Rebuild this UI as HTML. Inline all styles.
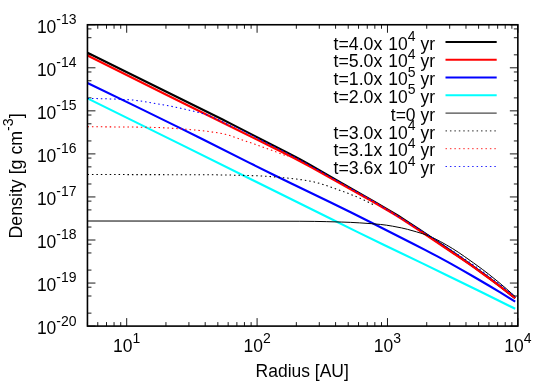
<!DOCTYPE html>
<html><head><meta charset="utf-8"><title>plot</title>
<style>
html,body{margin:0;padding:0;background:#fff;}
svg{display:block;}
text{font-family:"Liberation Sans",sans-serif;fill:#000;}
.tx{opacity:0.999;}
</style></head><body>
<svg width="550" height="386" viewBox="0 0 550 386">
<rect x="0" y="0" width="550" height="386" fill="#ffffff"/>
<path d="M87.45 326.10h8 M517.85 326.10h-8 M87.45 313.14h4 M517.85 313.14h-4 M87.45 296.01h4 M517.85 296.01h-4 M87.45 287.22h4 M517.85 287.22h-4 M87.45 283.05h8 M517.85 283.05h-8 M87.45 270.09h4 M517.85 270.09h-4 M87.45 252.96h4 M517.85 252.96h-4 M87.45 244.17h4 M517.85 244.17h-4 M87.45 240.00h8 M517.85 240.00h-8 M87.45 227.04h4 M517.85 227.04h-4 M87.45 209.91h4 M517.85 209.91h-4 M87.45 201.12h4 M517.85 201.12h-4 M87.45 196.95h8 M517.85 196.95h-8 M87.45 183.99h4 M517.85 183.99h-4 M87.45 166.86h4 M517.85 166.86h-4 M87.45 158.07h4 M517.85 158.07h-4 M87.45 153.90h8 M517.85 153.90h-8 M87.45 140.94h4 M517.85 140.94h-4 M87.45 123.81h4 M517.85 123.81h-4 M87.45 115.02h4 M517.85 115.02h-4 M87.45 110.85h8 M517.85 110.85h-8 M87.45 97.89h4 M517.85 97.89h-4 M87.45 80.76h4 M517.85 80.76h-4 M87.45 71.97h4 M517.85 71.97h-4 M87.45 67.80h8 M517.85 67.80h-8 M87.45 54.84h4 M517.85 54.84h-4 M87.45 37.71h4 M517.85 37.71h-4 M87.45 28.92h4 M517.85 28.92h-4 M87.45 24.75h8 M517.85 24.75h-8 M87.45 326.1v-4 M87.45 24.75v4 M97.77 326.1v-4 M97.77 24.75v4 M106.50 326.1v-4 M106.50 24.75v4 M114.06 326.1v-4 M114.06 24.75v4 M120.73 326.1v-4 M120.73 24.75v4 M126.70 326.1v-8 M126.70 24.75v8 M165.95 326.1v-4 M165.95 24.75v4 M188.91 326.1v-4 M188.91 24.75v4 M205.20 326.1v-4 M205.20 24.75v4 M217.83 326.1v-4 M217.83 24.75v4 M228.16 326.1v-4 M228.16 24.75v4 M236.89 326.1v-4 M236.89 24.75v4 M244.45 326.1v-4 M244.45 24.75v4 M251.12 326.1v-4 M251.12 24.75v4 M257.08 326.1v-8 M257.08 24.75v8 M296.33 326.1v-4 M296.33 24.75v4 M319.29 326.1v-4 M319.29 24.75v4 M335.58 326.1v-4 M335.58 24.75v4 M348.22 326.1v-4 M348.22 24.75v4 M358.54 326.1v-4 M358.54 24.75v4 M367.27 326.1v-4 M367.27 24.75v4 M374.83 326.1v-4 M374.83 24.75v4 M381.50 326.1v-4 M381.50 24.75v4 M387.47 326.1v-8 M387.47 24.75v8 M426.72 326.1v-4 M426.72 24.75v4 M449.68 326.1v-4 M449.68 24.75v4 M465.97 326.1v-4 M465.97 24.75v4 M478.60 326.1v-4 M478.60 24.75v4 M488.92 326.1v-4 M488.92 24.75v4 M497.65 326.1v-4 M497.65 24.75v4 M505.21 326.1v-4 M505.21 24.75v4 M511.88 326.1v-4 M511.88 24.75v4 M517.85 326.1v-8 M517.85 24.75v8" stroke="#000" stroke-width="0.9" fill="none"/>
<g fill="none" stroke-linejoin="round" stroke-linecap="butt">
<polyline points="87.50,52.80 123.39,70.43 222.09,119.29 234.05,125.35 260.97,139.20 287.89,152.90 299.85,159.22 308.83,164.20 338.74,181.48 374.63,201.85 392.57,212.31 398.55,216.03 404.54,219.86 419.49,229.75 455.38,253.99 470.34,264.38 479.31,270.80 485.29,275.18 491.27,279.64 500.25,286.48 515.20,298.20" stroke="#000000" stroke-width="2.15"/>
<polyline points="87.50,55.50 165.26,94.30 234.05,128.20 281.91,151.96 293.87,158.01 302.85,162.71 311.82,167.59 371.64,201.06 380.61,206.21 389.58,211.49 395.56,215.15 401.55,218.93 416.50,228.72 458.37,256.72 473.33,266.98 485.29,275.52 491.27,279.92 500.25,286.65 515.20,298.20" stroke="#ff0000" stroke-width="2.15"/>
<polyline points="87.50,83.00 135.35,106.13 180.22,128.11 201.15,138.52 249.01,162.59 272.94,174.52 290.88,183.30 329.76,202.00 350.70,212.29 371.64,222.78 413.51,243.94 425.47,250.11 437.44,256.42 449.40,262.93 461.36,269.62 473.33,276.46 488.28,285.20 500.25,292.39 515.20,301.60" stroke="#0000ff" stroke-width="2.15"/>
<polyline points="87.50,98.40 183.21,145.59 329.76,218.29 356.68,231.59 383.60,244.75 422.48,263.37 449.40,276.43 482.30,292.53 515.20,308.80" stroke="#00ffff" stroke-width="2.15"/>
<polyline points="87.50,221.00 243.03,221.12 299.85,221.25 314.81,221.40 326.77,221.65 341.73,222.05 350.70,222.39 359.67,222.86 371.64,223.69 380.61,224.46 386.59,225.20 392.57,226.18 401.55,227.92 407.53,229.34 416.50,231.85 422.48,233.66 425.47,234.66 428.46,235.79 431.45,237.06 434.45,238.46 440.43,241.55 446.41,244.91 452.39,248.44 458.37,252.30 464.35,256.42 473.33,262.75 482.30,269.29 488.28,273.85 497.25,281.05 506.23,288.63 515.20,296.60" stroke="#000000" stroke-width="1.0"/>
<polyline points="87.50,174.55 200.91,174.70 212.84,174.79 227.77,175.01 248.66,175.51 260.59,175.94 266.56,176.31 272.53,176.76 281.48,177.53 290.44,178.40 296.41,179.08 302.38,179.88 308.34,180.81 311.33,181.35 314.31,181.99 317.30,182.75 323.27,184.54 329.23,186.56 344.16,191.88 353.11,195.31 359.08,197.80 362.06,199.12 368.03,201.95 374.00,205.00" stroke="#000000" stroke-width="1.05" stroke-dasharray="1.5 2.94"/>
<polyline points="87.50,126.80 108.45,126.86 129.40,127.03 150.34,127.31 159.32,127.58 171.29,128.22 183.26,129.03 189.25,129.49 201.22,130.64 207.20,131.34 213.19,132.14 219.17,133.06 222.16,133.60 225.16,134.28 228.15,135.08 231.14,135.98 237.13,138.01 246.10,141.25 255.08,144.36 288.00,156.30" stroke="#ff0000" stroke-width="1.05" stroke-dasharray="1.5 2.94"/>
<polyline points="87.50,98.50 99.54,98.62 111.58,98.96 126.64,99.58 132.66,100.01 138.68,100.71 144.70,101.60 162.76,104.67 168.78,105.79 180.82,108.30 192.86,111.07 198.89,112.53 201.90,113.35 204.91,114.25 207.92,115.26 210.93,116.38 213.94,117.60 216.95,118.93 219.96,120.36 222.97,121.88 225.98,123.50 232.00,127.00 235.00,126.90 262.00,140.56 286.00,152.62 295.00,157.26 301.00,160.44 313.00,167.06 337.00,180.75 370.00,199.32 382.00,206.22 385.00,208.76 397.00,215.74 406.00,221.15 424.00,232.32 433.00,237.99 439.00,241.88 448.00,247.83 463.00,257.87 475.00,266.15 481.00,270.42 487.00,274.80 493.00,279.29 499.00,283.88 508.00,290.94 515.20,296.70" stroke="#0000ff" stroke-width="1.05" stroke-dasharray="1.5 2.94"/>
</g>
<rect x="87.45" y="24.75" width="430.40000000000003" height="301.35" fill="none" stroke="#000" stroke-width="1.6"/>
<g class="tx">
<text transform="translate(36.9,334.10) scale(0.972,1)" font-size="18" text-anchor="start">10<tspan font-size="14.4" dy="-8.6">-20</tspan></text>
<text transform="translate(36.9,291.05) scale(0.972,1)" font-size="18" text-anchor="start">10<tspan font-size="14.4" dy="-8.6">-19</tspan></text>
<text transform="translate(36.9,248.00) scale(0.972,1)" font-size="18" text-anchor="start">10<tspan font-size="14.4" dy="-8.6">-18</tspan></text>
<text transform="translate(36.9,204.95) scale(0.972,1)" font-size="18" text-anchor="start">10<tspan font-size="14.4" dy="-8.6">-17</tspan></text>
<text transform="translate(36.9,161.90) scale(0.972,1)" font-size="18" text-anchor="start">10<tspan font-size="14.4" dy="-8.6">-16</tspan></text>
<text transform="translate(36.9,118.85) scale(0.972,1)" font-size="18" text-anchor="start">10<tspan font-size="14.4" dy="-8.6">-15</tspan></text>
<text transform="translate(36.9,75.80) scale(0.972,1)" font-size="18" text-anchor="start">10<tspan font-size="14.4" dy="-8.6">-14</tspan></text>
<text transform="translate(36.9,32.75) scale(0.972,1)" font-size="18" text-anchor="start">10<tspan font-size="14.4" dy="-8.6">-13</tspan></text>
<text transform="translate(126.70,351.7) scale(0.972,1)" font-size="18" text-anchor="middle">10<tspan font-size="14.4" dy="-8.6">1</tspan></text>
<text transform="translate(257.08,351.7) scale(0.972,1)" font-size="18" text-anchor="middle">10<tspan font-size="14.4" dy="-8.6">2</tspan></text>
<text transform="translate(387.47,351.7) scale(0.972,1)" font-size="18" text-anchor="middle">10<tspan font-size="14.4" dy="-8.6">3</tspan></text>
<text transform="translate(517.85,351.7) scale(0.972,1)" font-size="18" text-anchor="middle">10<tspan font-size="14.4" dy="-8.6">4</tspan></text>
<text transform="translate(302.2,377.0) scale(0.972,1)" font-size="18" text-anchor="middle">Radius [AU]</text>
<text transform="translate(22.0,175.9) rotate(-90) scale(0.988,1)" font-size="18" text-anchor="middle">Density [g cm<tspan font-size="14.4" dy="-8.6">-3</tspan><tspan dy="8.6">]</tspan></text>
<text transform="translate(382.3,49.50) scale(0.986,1)" font-size="18" text-anchor="end">t=4.0x</text>
<text transform="translate(435.0,49.50) scale(0.972,1)" font-size="18" text-anchor="end">10<tspan font-size="14.4" dy="-8.6">4</tspan><tspan dy="8.6"> yr</tspan></text>
<path d="M445.5 41.90H496.7" stroke="#000000" stroke-width="2.0" fill="none"/>
<text transform="translate(382.3,67.30) scale(0.986,1)" font-size="18" text-anchor="end">t=5.0x</text>
<text transform="translate(435.0,67.30) scale(0.972,1)" font-size="18" text-anchor="end">10<tspan font-size="14.4" dy="-8.6">4</tspan><tspan dy="8.6"> yr</tspan></text>
<path d="M445.5 59.70H496.7" stroke="#ff0000" stroke-width="2.0" fill="none"/>
<text transform="translate(382.3,85.10) scale(0.986,1)" font-size="18" text-anchor="end">t=1.0x</text>
<text transform="translate(435.0,85.10) scale(0.972,1)" font-size="18" text-anchor="end">10<tspan font-size="14.4" dy="-8.6">5</tspan><tspan dy="8.6"> yr</tspan></text>
<path d="M445.5 77.50H496.7" stroke="#0000ff" stroke-width="2.0" fill="none"/>
<text transform="translate(382.3,102.90) scale(0.986,1)" font-size="18" text-anchor="end">t=2.0x</text>
<text transform="translate(435.0,102.90) scale(0.972,1)" font-size="18" text-anchor="end">10<tspan font-size="14.4" dy="-8.6">5</tspan><tspan dy="8.6"> yr</tspan></text>
<path d="M445.5 95.30H496.7" stroke="#00ffff" stroke-width="2.0" fill="none"/>
<text transform="translate(435.0,120.70) scale(0.972,1)" font-size="18" text-anchor="end">t=0 yr</text>
<path d="M445.5 113.10H496.7" stroke="#000000" stroke-width="0.9" fill="none"/>
<text transform="translate(382.3,138.50) scale(0.986,1)" font-size="18" text-anchor="end">t=3.0x</text>
<text transform="translate(435.0,138.50) scale(0.972,1)" font-size="18" text-anchor="end">10<tspan font-size="14.4" dy="-8.6">4</tspan><tspan dy="8.6"> yr</tspan></text>
<path d="M445.5 130.90H496.7" stroke="#000000" stroke-width="0.85" fill="none" stroke-dasharray="1.5 2.94"/>
<text transform="translate(382.3,156.30) scale(0.986,1)" font-size="18" text-anchor="end">t=3.1x</text>
<text transform="translate(435.0,156.30) scale(0.972,1)" font-size="18" text-anchor="end">10<tspan font-size="14.4" dy="-8.6">4</tspan><tspan dy="8.6"> yr</tspan></text>
<path d="M445.5 148.70H496.7" stroke="#ff0000" stroke-width="0.85" fill="none" stroke-dasharray="1.5 2.94"/>
<text transform="translate(382.3,174.10) scale(0.986,1)" font-size="18" text-anchor="end">t=3.6x</text>
<text transform="translate(435.0,174.10) scale(0.972,1)" font-size="18" text-anchor="end">10<tspan font-size="14.4" dy="-8.6">4</tspan><tspan dy="8.6"> yr</tspan></text>
<path d="M445.5 166.50H496.7" stroke="#0000ff" stroke-width="0.85" fill="none" stroke-dasharray="1.5 2.94"/>
</g>
</svg></body></html>
